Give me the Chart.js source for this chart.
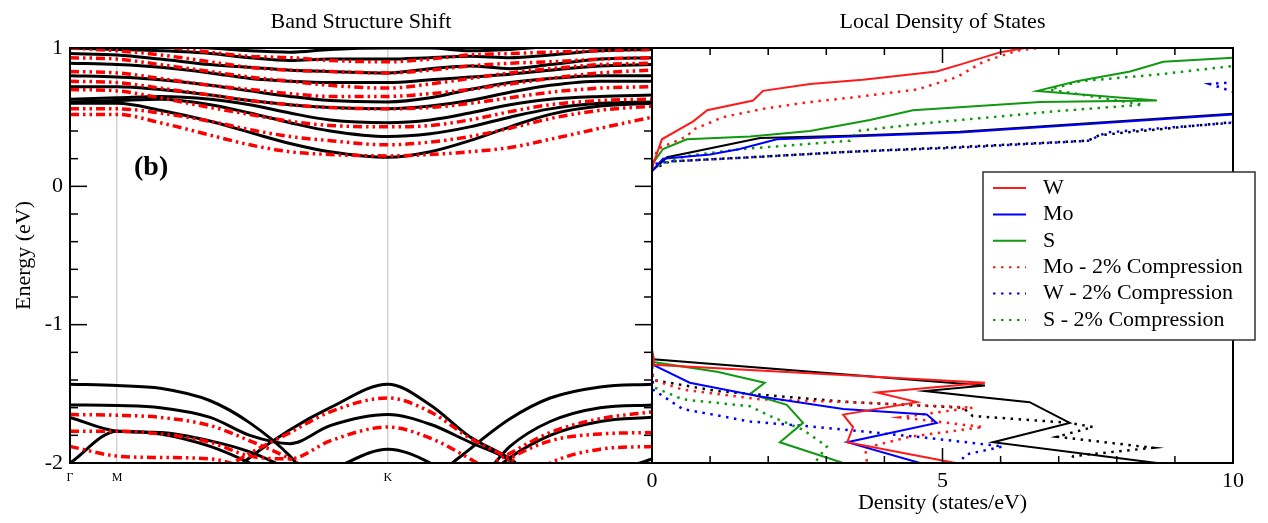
<!DOCTYPE html>
<html>
<head>
<meta charset="utf-8">
<script src="https://cdn.jsdelivr.net/npm/chart.js@4.4.1/dist/chart.umd.min.js"></script>
<style>
  html, body { margin: 0; padding: 0; background: #fff; }
  #wrap { position: relative; width: 1268px; height: 523px; overflow: hidden; }
  #bandBox { position: absolute; left: 0; top: 0; width: 660px; height: 523px; }
  #dosBox { position: absolute; left: 640px; top: 0; width: 628px; height: 523px; }
</style>
</head>
<body>
<div id="wrap">
  <div id="bandBox"><canvas id="bandChart"></canvas></div>
  <div id="dosBox"><canvas id="dosChart"></canvas></div>
</div>
<script>
// ── Band structure: k-path samples (Γ … M … K … Γ) ───────────────────────────
const K_PTS = [0, 0.081, 0.155, 0.241, 0.309, 0.378, 0.447, 0.546, 0.619, 0.687, 0.756, 0.825, 0.911, 1.0];
const K_TICKS = [0, 0.081, 0.546];
const K_LABELS = ['Γ', 'M', 'K'];

// unstrained (black) conduction bands
const CB_1 = [0.60, 0.60, 0.55, 0.47, 0.39, 0.31, 0.25, 0.21, 0.25, 0.33, 0.43, 0.52, 0.58, 0.60];
const CB_2 = [0.61, 0.62, 0.63, 0.59, 0.53, 0.46, 0.40, 0.36, 0.38, 0.43, 0.50, 0.56, 0.60, 0.61];
const CB_3 = [0.63, 0.64, 0.65, 0.63, 0.59, 0.53, 0.48, 0.46, 0.48, 0.53, 0.59, 0.63, 0.65, 0.66];
const CB_4 = [0.72, 0.72, 0.70, 0.66, 0.62, 0.59, 0.57, 0.56, 0.58, 0.62, 0.68, 0.73, 0.76, 0.76];
const CB_5 = [0.80, 0.79, 0.77, 0.73, 0.69, 0.65, 0.62, 0.61, 0.64, 0.70, 0.75, 0.78, 0.80, 0.80];
const CB_6 = [0.89, 0.88, 0.86, 0.82, 0.78, 0.76, 0.75, 0.75, 0.77, 0.79, 0.81, 0.84, 0.87, 0.88];
const CB_7 = [0.96, 0.95, 0.92, 0.88, 0.86, 0.84, 0.83, 0.82, 0.85, 0.87, 0.85, 0.88, 0.92, 0.93];
const CB_8 = [1.00, 0.99, 0.98, 0.96, 0.93, 0.91, 0.92, 0.92, 0.93, 0.94, 0.93, 0.95, 0.98, 0.99];
const CB_9 = [1.05, 1.04, 1.02, 1.00, 0.98, 0.97, 0.99, 1.00, 1.00, 0.98, 0.99, 1.01, 1.02, 1.03];
// unstrained (black) valence bands
const VB_1 = [-1.43, -1.44, -1.46, -1.55, -1.71, -1.95, -2.30, -2.60, -2.15, -1.90, -1.68, -1.53, -1.45, -1.43];
const VB_2 = [-2.60, -2.50, -2.40, -2.20, -1.96, -1.76, -1.60, -1.43, -1.58, -1.81, -1.97, -2.20, -2.40, -2.50];
const VB_3 = [-1.58, -1.585, -1.60, -1.67, -1.80, -1.86, -1.73, -1.65, -1.72, -1.85, -1.98, -2.20, -2.40, -2.50];
const VB_4 = [-2.50, -2.50, -2.50, -2.50, -2.50, -2.50, -2.40, -2.30, -2.30, -2.20, -1.88, -1.70, -1.60, -1.58];
const VB_5 = [-1.67, -1.77, -1.78, -1.84, -1.92, -2.05, -2.20, -2.30, -2.30, -2.20, -1.96, -1.80, -1.70, -1.67];
const VB_6 = [-2.00, -1.77, -1.79, -1.88, -2.00, -2.15, -2.05, -1.90, -2.00, -2.20, -2.30, -2.30, -2.10, -1.97];

// 2% compression (red) conduction bands
const CBC_1 = [0.52, 0.52, 0.46, 0.37, 0.30, 0.25, 0.23, 0.22, 0.23, 0.25, 0.28, 0.34, 0.42, 0.50];
const CBC_2 = [0.56, 0.56, 0.53, 0.47, 0.41, 0.36, 0.33, 0.30, 0.32, 0.36, 0.42, 0.49, 0.55, 0.58];
const CBC_3 = [0.70, 0.69, 0.64, 0.57, 0.52, 0.47, 0.44, 0.43, 0.44, 0.48, 0.54, 0.59, 0.62, 0.63];
const CBC_4 = [0.76, 0.75, 0.71, 0.66, 0.62, 0.59, 0.57, 0.56, 0.57, 0.60, 0.64, 0.68, 0.71, 0.72];
const CBC_5 = [0.83, 0.82, 0.78, 0.73, 0.70, 0.67, 0.65, 0.65, 0.67, 0.70, 0.74, 0.78, 0.82, 0.84];
const CBC_6 = [0.93, 0.92, 0.88, 0.83, 0.79, 0.76, 0.73, 0.71, 0.74, 0.78, 0.82, 0.85, 0.88, 0.89];
const CBC_7 = [1.00, 0.98, 0.95, 0.90, 0.86, 0.84, 0.83, 0.82, 0.84, 0.87, 0.89, 0.90, 0.92, 0.93];
const CBC_8 = [1.05, 1.04, 1.01, 0.97, 0.94, 0.93, 0.91, 0.90, 0.92, 0.95, 0.96, 0.97, 0.98, 0.99];
// 2% compression (red) valence bands
const VBC_1 = [-1.65, -1.655, -1.67, -1.73, -1.84, -1.97, -2.15, -2.30, -2.25, -2.10, -1.93, -1.78, -1.68, -1.63];
const VBC_2 = [-2.50, -2.40, -2.30, -2.10, -1.93, -1.78, -1.63, -1.53, -1.63, -1.82, -1.97, -2.15, -2.30, -2.40];
const VBC_3 = [-1.77, -1.77, -1.79, -1.85, -1.95, -1.97, -1.84, -1.74, -1.82, -1.97, -2.15, -2.30, -2.40, -2.50];
const VBC_4 = [-2.50, -2.50, -2.50, -2.50, -2.40, -2.40, -2.40, -2.30, -2.30, -2.20, -1.97, -1.84, -1.79, -1.78];
const VBC_5 = [-1.88, -1.95, -1.96, -1.97, -2.05, -2.20, -2.30, -2.30, -2.30, -2.30, -2.20, -2.00, -1.90, -1.88];

const BLACK_BANDS = [CB_1, CB_2, CB_3, CB_4, CB_5, CB_6, CB_7, CB_8, CB_9, VB_1, VB_2, VB_3, VB_4, VB_5, VB_6];
const RED_BANDS = [CBC_1, CBC_2, CBC_3, CBC_4, CBC_5, CBC_6, CBC_7, CBC_8, VBC_1, VBC_2, VBC_3, VBC_4, VBC_5];

// ── Local DOS: [density, energy] pairs, conduction (UP) and valence (DN) parts ──
const W_UP   = [[0,0.12],[0.02,0.16],[0.17,0.34],[0.71,0.47],[0.95,0.55],[1.74,0.62],[1.91,0.69],[2.72,0.74],[3.63,0.77],[4.9,0.83],[5.3,0.88],[6.0,0.97],[6.7,1.02]];
const W_DN   = [[0,-1.18],[0.02,-1.23],[0.03,-1.29],[5.73,-1.42],[3.87,-1.49],[4.56,-1.56],[3.29,-1.65],[3.46,-1.74],[3.36,-1.85],[5.22,-2.0],[5.5,-2.05]];
const MO_UP  = [[0,0.11],[0.19,0.20],[1.0,0.23],[1.51,0.27],[2.15,0.34],[3.41,0.36],[5.3,0.39],[10.0,0.52]];
const MO_DN  = [[0,-1.22],[0.02,-1.29],[0.65,-1.42],[1.86,-1.52],[3.29,-1.61],[4.73,-1.65],[4.9,-1.71],[3.36,-1.85],[4.61,-2.0],[4.8,-2.03]];
const S_UP   = [[0,0.12],[0.02,0.17],[0.19,0.27],[0.6,0.34],[1.69,0.36],[2.72,0.40],[3.75,0.48],[4.49,0.55],[6.68,0.61],[8.69,0.62],[6.63,0.69],[7.31,0.76],[8.23,0.83],[8.8,0.90],[10.0,0.93]];
const S_DN   = [[0,-1.2],[0.02,-1.27],[1.12,-1.34],[1.94,-1.42],[1.69,-1.50],[2.32,-1.58],[2.6,-1.71],[2.2,-1.85],[3.29,-2.0],[3.5,-2.03]];
const MO2_UP = [[0,0.12],[0.09,0.27],[0.6,0.36],[0.71,0.41],[1.22,0.50],[1.91,0.56],[2.72,0.61],[3.41,0.64],[4.56,0.70],[5.25,0.79],[5.7,0.90],[6.28,0.98],[7.0,1.02]];
const MO2_DN = [[0,-1.3],[0.02,-1.40],[0.53,-1.47],[1.86,-1.54],[3.41,-1.56],[5.52,-1.60],[4.27,-1.67],[5.7,-1.74],[4.44,-1.81],[3.67,-1.89],[3.7,-2.0]];
const W2_UP  = [[0,0.12],[0.02,0.16],[0.31,0.18],[1.69,0.21],[3.41,0.25],[5.3,0.28],[7.54,0.33],[7.66,0.36],[7.83,0.39],[10.0,0.46],[10.6,0.6],[9.6,0.74],[10.6,0.77]];
const W2_DN  = [[0,-1.35],[0.02,-1.47],[0.53,-1.61],[1.69,-1.70],[2.84,-1.74],[4.56,-1.81],[6.04,-1.88],[5.39,-1.94],[5.3,-2.0]];
const S2_UP  = [[0,0.12],[0.02,0.14],[0.6,0.22],[1.57,0.27],[3.41,0.33],[3.53,0.40],[4.56,0.45],[6.85,0.54],[8.45,0.59],[6.85,0.70],[7.37,0.76],[8.74,0.81],[10.0,0.87]];
const S2_DN  = [[0,-1.35],[0.02,-1.45],[0.53,-1.54],[1.69,-1.59],[2.03,-1.66],[2.6,-1.76],[3.01,-1.88],[2.8,-2.0]];
const TOT_UP  = [[0,0.11],[0.26,0.21],[1.86,0.35],[3.41,0.365],[5.3,0.395],[10.0,0.525]];
const TOT_DN  = [[0,-1.20],[0.02,-1.25],[5.73,-1.44],[4.7,-1.48],[5.56,-1.52],[6.5,-1.56],[7.19,-1.71],[5.87,-1.85],[8.69,-2.0],[9.0,-2.03]];
const TOT2_UP = [[0,0.12],[0.3,0.18],[1.7,0.21],[3.4,0.25],[5.3,0.285],[7.5,0.33],[7.7,0.37],[10.0,0.465]];
const TOT2_DN = [[0,-1.3],[0.02,-1.40],[1.12,-1.48],[3.41,-1.56],[5.35,-1.60],[5.52,-1.66],[7.19,-1.71],[7.59,-1.74],[6.97,-1.81],[8.62,-1.89],[7.25,-1.95],[7.19,-2.0]];

const LDOS_LABELS = ['W', 'Mo', 'S', 'Mo - 2% Compression', 'W - 2% Compression', 'S - 2% Compression'];
const LDOS_COLORS = ['#ff1a1a', '#0000ff', '#109910', '#ff1a1a', '#0000ff', '#109910'];
const LDOS_DOTTED = [false, false, false, true, true, true];
const LDOS_UP = [W_UP, MO_UP, S_UP, MO2_UP, W2_UP, S2_UP];
const LDOS_DN = [W_DN, MO_DN, S_DN, MO2_DN, W2_DN, S2_DN];

const SERIF = '"Liberation Serif", "Times New Roman", serif';
const DOTS = [2.5, 5.5];
const DASH_DOT_DOT = [9, 4, 2.5, 4, 2.5, 4];
Chart.defaults.font.family = SERIF;
Chart.defaults.color = '#000';

const isInt = v => Math.abs(v - Math.round(v)) < 1e-6;

// ── frame, inward ticks and panel title ──────────────────────────────────────
const framePlugin = {
  id: 'frame',
  afterDraw(chart, args, opts) {
    const { ctx, chartArea: a } = chart;
    const line = (x1, y1, x2, y2) => { ctx.beginPath(); ctx.moveTo(x1, y1); ctx.lineTo(x2, y2); ctx.stroke(); };
    ctx.save();
    ctx.strokeStyle = '#000';
    ctx.lineWidth = 1.5;
    if (opts.yTicks) {
      const ys = chart.scales.y;
      ys.ticks.forEach(t => {
        const py = ys.getPixelForValue(t.value);
        const len = isInt(t.value) ? 17 : 8;
        line(a.left, py, a.left + len, py);
        line(a.right, py, a.right - len, py);
      });
    }
    if (opts.xTicks) {
      const xs = chart.scales.x;
      xs.ticks.forEach(t => {
        const px = xs.getPixelForValue(t.value);
        const len = t.value % 5 === 0 ? 15 : 7;
        line(px, a.top, px, a.top + len);
        line(px, a.bottom, px, a.bottom - len);
      });
    }
    ctx.lineWidth = 2;
    ctx.strokeRect(a.left, a.top, a.width, a.height);
    ctx.fillStyle = '#000';
    ctx.textAlign = 'center';
    ctx.textBaseline = 'middle';
    ctx.font = '22px ' + SERIF;
    ctx.fillText(opts.title, (a.left + a.right) / 2, 22);
    if (opts.tag) {
      ctx.textAlign = 'left';
      ctx.font = 'bold 28px ' + SERIF;
      ctx.fillText(opts.tag, a.left + 64, a.top + 120);
    }
    ctx.restore();
  }
};

// ── boxed legend inside the LDOS panel ───────────────────────────────────────
const boxLegend = {
  id: 'boxLegend',
  afterDraw(chart) {
    const { ctx, chartArea: a } = chart;
    const x0 = a.right - 250, y0 = a.top + 124, w = 272, h = 168;
    ctx.save();
    ctx.fillStyle = '#fff';
    ctx.fillRect(x0, y0, w, h);
    ctx.strokeStyle = '#333';
    ctx.lineWidth = 1.5;
    ctx.strokeRect(x0, y0, w, h);
    ctx.font = '22px ' + SERIF;
    ctx.textAlign = 'left';
    ctx.textBaseline = 'middle';
    LDOS_LABELS.forEach((lab, i) => {
      const y = y0 + 16 + i * 26.4;
      ctx.strokeStyle = LDOS_COLORS[i];
      ctx.lineWidth = 2;
      ctx.setLineDash(LDOS_DOTTED[i] ? DOTS : []);
      ctx.beginPath(); ctx.moveTo(x0 + 10, y); ctx.lineTo(x0 + 43, y); ctx.stroke();
      ctx.setLineDash([]);
      ctx.fillStyle = '#000';
      ctx.fillText(lab, x0 + 60, y);
    });
    ctx.restore();
  }
};

// ── left: band structure ─────────────────────────────────────────────────────
function bandSet(vals, color, dash, width) {
  return {
    data: K_PTS.map((k, i) => ({ x: k, y: vals[i] })),
    borderColor: color, borderWidth: width, borderDash: dash,
    showLine: true, pointRadius: 0, cubicInterpolationMode: 'monotone', clip: 0
  };
}

new Chart(document.getElementById('bandChart'), {
  type: 'scatter',
  data: {
    datasets: [
      ...RED_BANDS.map(b => bandSet(b, '#ff0000', DASH_DOT_DOT, 3.5)),
      ...BLACK_BANDS.map(b => bandSet(b, '#000000', [], 3))
    ]
  },
  options: {
    responsive: true, maintainAspectRatio: false, animation: false,
    layout: { padding: { top: 48, right: 8, left: 0, bottom: 0 } },
    scales: {
      x: {
        type: 'linear', min: 0, max: 1,
        afterBuildTicks: s => { s.ticks = K_TICKS.map(v => ({ value: v })); },
        afterFit: s => { s.height = 60; },
        ticks: { callback: (v, i) => K_LABELS[i], font: { size: 12 }, padding: 8, autoSkip: false, maxRotation: 0 },
        grid: { color: c => (c.tick && c.tick.value === 0) ? 'rgba(0,0,0,0)' : '#d4d4d4', lineWidth: 1.5, drawTicks: false },
        border: { display: true, color: '#000', width: 2 }
      },
      y: {
        min: -2, max: 1,
        afterFit: s => { s.width = 70; },
        ticks: { stepSize: 0.2, autoSkip: false, padding: 7, font: { size: 22 },
                 callback: v => isInt(v) ? String(Math.round(v)) : '' },
        grid: { display: false, drawTicks: false },
        border: { display: true, color: '#000', width: 2 },
        title: { display: true, text: 'Energy (eV)', font: { size: 22 }, padding: { top: 11, bottom: 0 } }
      }
    },
    plugins: {
      legend: { display: false }, tooltip: { enabled: false },
      frame: { yTicks: true, xTicks: false, title: 'Band Structure Shift', tag: '(b)' }
    }
  },
  plugins: [framePlugin]
});

// ── right: local density of states ───────────────────────────────────────────
function dosSet(pairs, color, dotted) {
  return {
    data: pairs.map(p => ({ x: p[0], y: p[1] })),
    borderColor: color, borderWidth: dotted ? 2.5 : 2, borderDash: dotted ? DOTS : [],
    showLine: true, pointRadius: 0, tension: 0, clip: 0
  };
}

const dosSets = [];
LDOS_LABELS.forEach((lab, i) => {
  dosSets.push(dosSet(LDOS_UP[i], LDOS_COLORS[i], LDOS_DOTTED[i]));
  dosSets.push(dosSet(LDOS_DN[i], LDOS_COLORS[i], LDOS_DOTTED[i]));
});
dosSets.push(dosSet(TOT_UP, '#000', false), dosSet(TOT_DN, '#000', false));
dosSets.push(dosSet(TOT2_UP, '#000', true), dosSet(TOT2_DN, '#000', true));

new Chart(document.getElementById('dosChart'), {
  type: 'scatter',
  data: { datasets: dosSets },
  options: {
    responsive: true, maintainAspectRatio: false, animation: false,
    layout: { padding: { top: 48, right: 35, left: 12, bottom: 0 } },
    scales: {
      x: {
        type: 'linear', min: 0, max: 10,
        afterFit: s => { s.height = 60; },
        ticks: { stepSize: 1, autoSkip: false, padding: 5, maxRotation: 0, font: { size: 22 },
                 callback: v => (v % 5 === 0 ? String(v) : '') },
        grid: { display: false, drawTicks: false },
        border: { display: true, color: '#000', width: 2 },
        title: { display: true, text: 'Density (states/eV)', font: { size: 22 }, padding: { top: 0, bottom: 7 } }
      },
      y: { display: false, min: -2, max: 1 }
    },
    plugins: {
      legend: { display: false }, tooltip: { enabled: false },
      frame: { yTicks: false, xTicks: true, title: 'Local Density of States' }
    }
  },
  plugins: [framePlugin, boxLegend]
});
</script>
</body>
</html>
